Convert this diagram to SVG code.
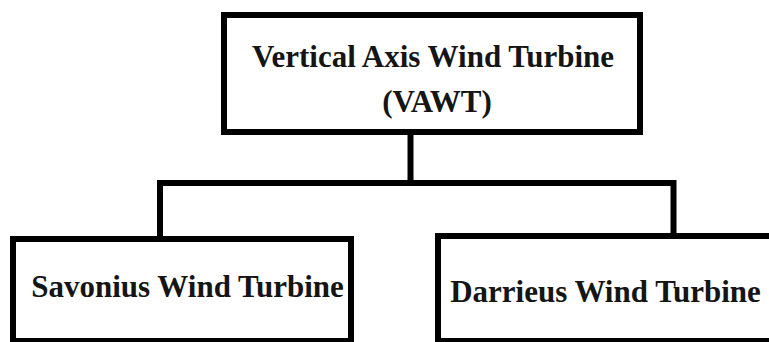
<svg xmlns="http://www.w3.org/2000/svg" width="769" height="342" viewBox="0 0 769 342">
  <style>
    .box { fill: #ffffff; stroke: #000000; stroke-width: 6; }
    .lbl { font-weight: bold; font-size: 31px; fill: #151515; text-anchor: middle; }
    .conn { fill: none; stroke: #000000; stroke-width: 6; stroke-linecap: square; stroke-linejoin: miter; }
  </style>
  <rect x="0" y="0" width="769" height="342" fill="#ffffff"/>
  <g id="connectors">
    <path class="conn" d="M410.5 135 V183"/>
    <path class="conn" d="M160 239 V183 H673.5 V236"/>
  </g>
  <g id="node-vawt">
    <rect class="box" x="224" y="15" width="416" height="117"/>
    <text class="lbl" font-family="Liberation Serif, serif" x="433" y="67">Vertical Axis Wind Turbine</text>
    <text class="lbl" font-family="Liberation Serif, serif" x="437" y="112">(VAWT)</text>
  </g>
  <g id="node-savonius">
    <rect class="box" x="13" y="239" width="338" height="102"/>
    <text class="lbl" font-family="Liberation Serif, serif" x="187.5" y="297">Savonius Wind Turbine</text>
  </g>
  <g id="node-darrieus">
    <rect class="box" x="438" y="236" width="345" height="105"/>
    <text class="lbl" font-family="Liberation Serif, serif" x="605.5" y="302">Darrieus Wind Turbine</text>
  </g>
</svg>
